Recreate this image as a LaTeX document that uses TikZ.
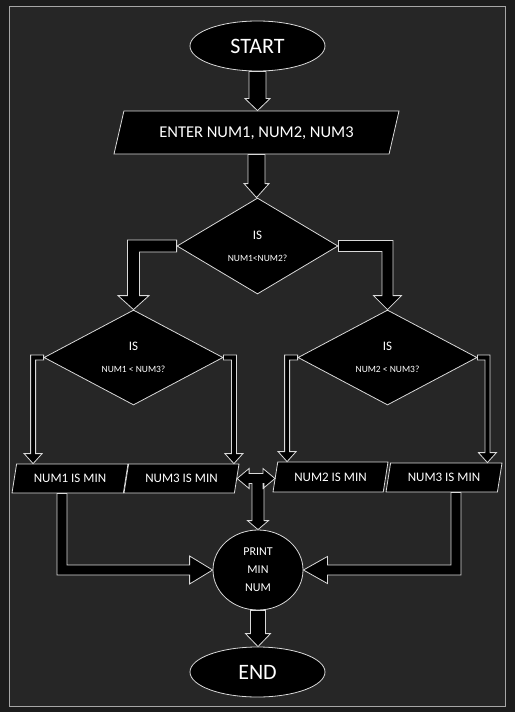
\documentclass[tikz,border=0pt]{standalone}
\usepackage{fontspec}
\setmainfont{Carlito}
\usetikzlibrary{shapes.geometric,calc}

\definecolor{pagebg}{HTML}{1C1C1C}
\definecolor{panelbg}{HTML}{262626}
\definecolor{panelline}{HTML}{A6A6A6}
\definecolor{edge}{HTML}{D9D9D9}

\tikzset{
	shapebase/.style={draw=edge, fill=black, text=white, line width=0.8pt, inner sep=0pt},
	terminal/.style={shapebase, ellipse, minimum width=135pt, minimum height=50pt, font=\fontsize{22}{26}\selectfont},
	iobox/.style={shapebase, trapezium, trapezium stretches body, text depth=0pt},
	result/.style={iobox, trapezium left angle=81, trapezium right angle=99, text height=8.4pt, inner ysep=10.3pt, minimum width=116pt, font=\fontsize{13}{15}\selectfont},
	decision/.style={shapebase, diamond, align=center, font=\fontsize{9.5}{12}\selectfont},
	blockarrow/.style={draw=edge, fill=black, line width=0.8pt, line join=miter}
}

% straight block arrow, pointing down
\newcommand{\blockdown}[5]{%
	\draw[blockarrow] let \p1=(#1), \p2=(#2) in
		(\x1-#3,\y1) -- (\x1+#3,\y1) -- (\x1+#3,\y2+#5) -- (\x1+#4,\y2+#5)
		-- (\x1,\y2) -- (\x1-#4,\y2+#5) -- (\x1-#3,\y2+#5) -- cycle;
}
% block arrow, sideways first and then down
\newcommand{\blockoutdown}[5]{%
	\draw[blockarrow] let \p1=(#1), \p2=(#2), \n1={sign(\x2-\x1)} in
		(\x1,\y1+#3) -- (\x2+\n1*#3,\y1+#3) -- (\x2+\n1*#3,\y2+#5) -- (\x2+\n1*#4,\y2+#5)
		-- (\x2,\y2) -- (\x2-\n1*#4,\y2+#5) -- (\x2-\n1*#3,\y2+#5) -- (\x2-\n1*#3,\y1-#3)
		-- (\x1,\y1-#3) -- cycle;
}
% block arrow, down first and then sideways
\newcommand{\blockdownout}[5]{%
	\draw[blockarrow] let \p1=(#1), \p2=(#2), \n1={sign(\x2-\x1)} in
		(\x1-\n1*#3,\y1) -- (\x1-\n1*#3,\y2-#3) -- (\x2-\n1*#5,\y2-#3) -- (\x2-\n1*#5,\y2-#4)
		-- (\x2,\y2) -- (\x2-\n1*#5,\y2+#4) -- (\x2-\n1*#5,\y2+#3) -- (\x1+\n1*#3,\y2+#3)
		-- (\x1+\n1*#3,\y1) -- cycle;
}
% T shaped block arrow: left tip, right tip, bottom tip
\newcommand{\blocktee}[3]{%
	\draw[blockarrow] let \p1=(#1), \p2=(#2), \p3=(#3) in
		(\x1,\y1) -- (\x1+12pt,\y1+10pt) -- (\x1+12pt,\y1+5pt) -- (\x2-12pt,\y1+5pt)
		-- (\x2-12pt,\y1+10pt) -- (\x2,\y1) -- (\x2-12pt,\y1-10pt) -- (\x2-12pt,\y1-5pt)
		-- (\x3+6pt,\y1-5pt) -- (\x3+6pt,\y3+9pt) -- (\x3+10.5pt,\y3+9pt) -- (\x3,\y3)
		-- (\x3-10.5pt,\y3+9pt) -- (\x3-6pt,\y3+9pt) -- (\x3-6pt,\y1-5pt)
		-- (\x1+12pt,\y1-5pt) -- (\x1+12pt,\y1-10pt) -- cycle;
}

\begin{document}
\begin{tikzpicture}[x=1pt, y=-1pt]
	\useasboundingbox (0,0) rectangle (515,712);
	%background
	\fill[pagebg] (0,0) rectangle (515,712);
	\draw[panelline, fill=panelbg, line width=0.8pt] (9,6) rectangle (505,706);
	
	%boxes
	\node[terminal] (start) at (257.5,46) {START};
	\node[iobox, trapezium left angle=77, trapezium right angle=103, text height=10.6pt, inner ysep=16.2pt, minimum width=285pt, font=\fontsize{16.5}{19}\selectfont] (enter) at (256.5,132.5) {ENTER NUM1, NUM2, NUM3};
	\node[decision, minimum width=161pt, minimum height=96pt] (isa) at (257.5,246) {{\fontsize{13}{15}\selectfont IS}\\[10pt]NUM1<NUM2?};
	\node[decision, minimum width=179pt, minimum height=95pt] (isb) at (133.5,357.5) {{\fontsize{13}{15}\selectfont IS}\\[10pt]NUM1 < NUM3?};
	\node[decision, minimum width=179pt, minimum height=95pt] (isc) at (387.5,357.5) {{\fontsize{13}{15}\selectfont IS}\\[10pt]NUM2 < NUM3?};
	\node[result] (mina) at (70,478.5) {NUM1 IS MIN};
	\node[result, minimum width=115pt] (minc1) at (181.5,478.5) {NUM3 IS MIN};
	\node[result, minimum width=115pt, inner ysep=10.8pt] (minb) at (330.5,477) {NUM2 IS MIN};
	\node[result] (minc2) at (444,477.5) {NUM3 IS MIN};
	\node[shapebase, ellipse, minimum width=90pt, minimum height=80pt, align=center, font=\fontsize{12}{18}\selectfont] (print) at (258,570) {PRINT\\MIN\\NUM};
	\node[terminal] (stop) at (257.5,672) {END};
	
	%arrows
	\coordinate (kb1) at ($(isb.west)+(-10.5,0)$);
	\coordinate (kb2) at ($(isb.east)+(10.5,0)$);
	\coordinate (kc1) at ($(isc.west)+(-10.5,0)$);
	\coordinate (kc2) at ($(isc.east)+(10,0)$);
	\blockdown{start.south}{enter.north}{8.5pt}{12.5pt}{12pt}
	\blockdown{enter.south}{isa.north}{8.5pt}{12.5pt}{14pt}
	\blockoutdown{isa.west}{isb.north}{6pt}{15.5pt}{14pt}
	\blockoutdown{isa.east}{isc.north}{5.5pt}{14pt}{14pt}
	\blockoutdown{isb.west}{kb1 |- mina.north}{2.5pt}{9pt}{10pt}
	\blockoutdown{isb.east}{kb2 |- minc1.north}{2.5pt}{9pt}{10pt}
	\blockoutdown{isc.west}{kc1 |- minb.north}{2.5pt}{9pt}{10pt}
	\blockoutdown{isc.east}{kc2 |- minc2.north}{2.5pt}{9pt}{10pt}
	\blocktee{minc1.east}{minb.west}{print.north}
	\blockdownout{$(mina.south)+(-8,0)$}{print.west}{5pt}{14pt}{23pt}
	\blockdownout{$(minc2.south)+(12,0)$}{print.east}{5pt}{13.5pt}{24pt}
	\blockdown{print.south}{stop.north}{7.5pt}{12.5pt}{13pt}
\end{tikzpicture}
\end{document}
